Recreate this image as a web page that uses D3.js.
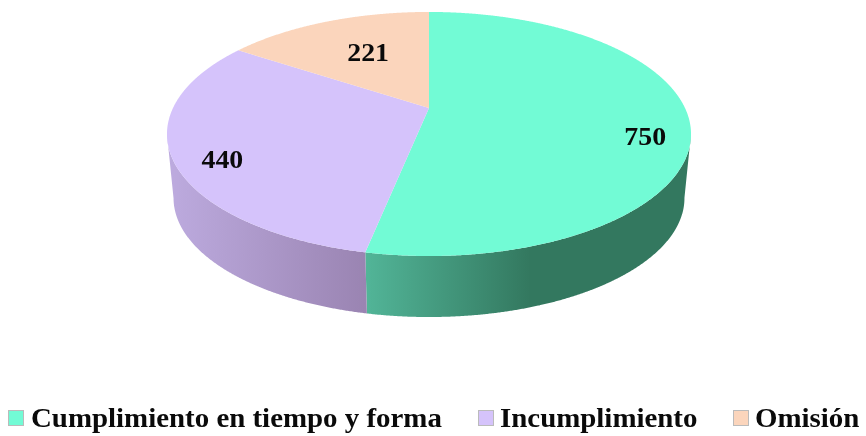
<!DOCTYPE html>
<html><head><meta charset="utf-8">
<script src="https://cdn.jsdelivr.net/npm/d3@7/dist/d3.min.js"></script>
<style>html,body{margin:0;padding:0;background:#fff}svg{display:block}text{font-family:"Liberation Serif",serif;font-weight:bold;fill:#0a0a0a}#root{filter:blur(0.5px)}</style>
</head><body><svg id="c" width="866" height="436"><g id="root"></g></svg>
<script>
const categories = ["Cumplimiento en tiempo y forma", "Incumplimiento", "Omisión"];
const values = [750, 440, 221];
const topColors = ["#72FBD5", "#D5C3FB", "#FBD5BC"];
const wallLight = ["#52B598", "#BDABDF", "#C9AA96"];
const wallDark = ["#33785F", "#9A84B2", "#A88E7C"];
const labelRadius = [0.835, 0.84, 0.6];
const labelTurn = [10, -6, 2];
const legendSwatchX = [8, 478, 733];
const legendTextX = [31, 500, 755];
const widthFactor = 1.07;

const svg = d3.select("#root");
const cx = 429, cy = 108, B = 256, A = 116.5, b = 0.213;
const baseScale = 0.975, baseDrop = 64.7;

// Perspective view of the disc: (angle clockwise from top, radius) -> screen
function project(a, r, k = 1, drop = 0) {
  const u = Math.sin(a) * r, v = Math.cos(a) * r, d = 1 + b * v;
  return [cx + k * B * u / d, cy + k * (-A * v / d) + drop];
}
const pie = d3.pie().sort(null).value(d => d)(values);
const line = d3.line();
const defs = d3.select("#c").append("defs");

// left and right silhouette angles of the disc
const step = 0.004;
const all = d3.range(0, 2 * Math.PI, step);
const rightA = all[d3.greatestIndex(all, a => project(a, 1)[0])];
const leftA = all[d3.leastIndex(all, a => project(a, 1)[0])];

// side wall, drawn for the front part of the rim
pie.forEach((p, i) => {
  const s = Math.max(p.startAngle, rightA), e = Math.min(p.endAngle, leftA);
  if (e <= s) return;
  const arc = d3.range(s, e, step).concat([e]);
  const pts = arc.map(a => project(a, 1)).concat(arc.slice().reverse().map(a => project(a, 1, baseScale, baseDrop)));
  const id = "wall" + i;
  const x1 = project(e, 1)[0];
  const x2 = i === 0 ? x1 + 165 : project(s, 1)[0];
  const g = defs.append("linearGradient").attr("id", id).attr("gradientUnits", "userSpaceOnUse")
    .attr("x1", x1).attr("x2", x2).attr("y1", 0).attr("y2", 0);
  g.append("stop").attr("offset", 0).attr("stop-color", wallLight[i]);
  g.append("stop").attr("offset", 1).attr("stop-color", wallDark[i]);
  svg.append("path").attr("d", line(pts) + "Z").attr("fill", `url(#${id})`);
});

// top face
pie.forEach((p, i) => {
  const arc = d3.range(p.startAngle, p.endAngle, step).concat([p.endAngle]);
  const pts = [project(0, 0)].concat(arc.map(a => project(a, 1)));
  svg.append("path").attr("d", line(pts) + "Z").attr("fill", topColors[i]);
});

function widen(sel) {
  sel.each(function () {
    this.setAttribute("textLength", this.getComputedTextLength() * widthFactor);
    this.setAttribute("lengthAdjust", "spacingAndGlyphs");
  });
}

// value labels
pie.forEach((p, i) => {
  const mid = (p.startAngle + p.endAngle) / 2 + labelTurn[i] * Math.PI / 180;
  const [x, y] = project(mid, labelRadius[i]);
  svg.append("text").attr("x", x).attr("y", y).attr("dy", "0.35em").attr("text-anchor", "middle")
    .attr("font-size", 26).text(values[i]).call(widen);
});

// legend
categories.forEach((c, i) => {
  svg.append("rect").attr("x", legendSwatchX[i] + 0.5).attr("y", 410.5).attr("width", 15).attr("height", 15)
    .attr("fill", topColors[i]).attr("stroke", "#bbb").attr("stroke-width", 1);
  svg.append("text").attr("x", legendTextX[i]).attr("y", 427).attr("font-size", 27).text(c).call(widen);
});
</script></body></html>
